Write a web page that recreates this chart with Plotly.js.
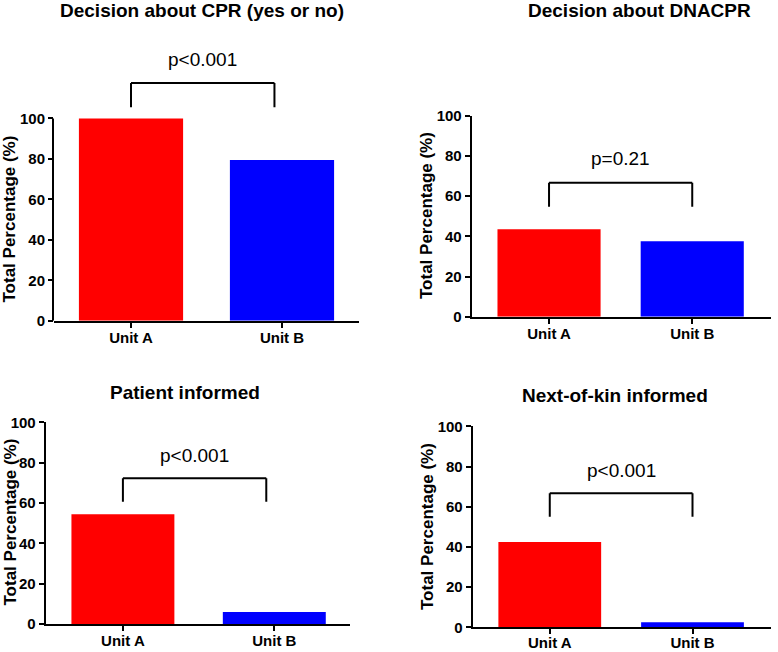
<!DOCTYPE html>
<html>
<head>
<meta charset="utf-8">
<script src="https://cdn.plot.ly/plotly-3.0.1.min.js"></script>
<style>html,body{margin:0;padding:0;background:#fff;}#chart{width:778px;height:652px;}</style>
</head>
<body>
<div id="chart"></div>
<script>
// ---- data ----
const units = ['Unit A', 'Unit B'];
const cprDecision = [100, 79.5];
const dnacprDecision = [43.5, 37.5];
const patientInformed = [54.4, 6.0];
const kinInformed = [42.4, 2.5];
const panelTitles = ['Decision about CPR (yes or no)', 'Decision about DNACPR', 'Patient informed', 'Next-of-kin informed'];
const pLabels = ['p<0.001', 'p=0.21', 'p<0.001', 'p<0.001'];
const yTicks = [0, 20, 40, 60, 80, 100];
const yTitle = 'Total Percentage (%)';

// ---- layout config (positions / styles) ----
const W = 778, H = 652;
const fx = px => px / W;
const fy = py => 1 - py / H;
const panels = [
  {vals: cprDecision, xdom: [54, 359], ydom: [320.7, 47.7], yr: [0, 135], xr: [-0.51, 1.51], bw: 0.69,
   br: {x0: 0, x1: 0.95, top: 117.5, leg: 105.6}, p: {x: 0.475, y: 129}, so: -3,
   title: {x: 202, y: 10}, ytitle: {x: 9.5, y: 219}},
  {vals: dnacprDecision, xdom: [471.7, 771], ydom: [316.7, 115.7], yr: [0, 100], xr: [-0.54, 1.55], bw: 0.72,
   br: {x0: 0, x1: 1, top: 66.7, leg: 54.7}, p: {x: 0.5, y: 78.5}, so: -3,
   title: {x: 639, y: 10}, ytitle: {x: 427, y: 216}},
  {vals: patientInformed, xdom: [45.7, 350], ydom: [624, 422.3], yr: [0, 100], xr: [-0.51, 1.50], bw: 0.68,
   br: {x0: 0, x1: 0.947, top: 72.2, leg: 60.6}, p: {x: 0.475, y: 83.4}, so: -3,
   title: {x: 185, y: 392}, ytitle: {x: 9.5, y: 522}},
  {vals: kinInformed, xdom: [472.7, 771], ydom: [627.3, 426.3], yr: [0, 100], xr: [-0.54, 1.55], bw: 0.72,
   br: {x0: 0, x1: 1, top: 66.7, leg: 55}, p: {x: 0.5, y: 78}, so: -4,
   title: {x: 615, y: 395.5}, ytitle: {x: 427, y: 527}}
];

const FONT = 'Liberation Sans, Arial, sans-serif';
const data = [];
const layout = {
  width: W, height: H,
  margin: {l: 0, r: 0, t: 0, b: 0},
  paper_bgcolor: '#ffffff', plot_bgcolor: 'rgba(0,0,0,0)',
  showlegend: false,
  shapes: [], annotations: [],
  font: {family: FONT, color: '#000'}
};

panels.forEach((pn, i) => {
  const n = i === 0 ? '' : String(i + 1);
  const xa = 'x' + n, ya = 'y' + n;
  data.push({
    type: 'bar', x: units.map((u, k) => k), y: pn.vals,
    xaxis: xa, yaxis: ya, width: pn.bw,
    marker: {color: ['#ff0000', '#0000ff'], line: {width: 0}},
    hoverinfo: 'none'
  });
  const lineOnAxis = pn.yr[1] === 100;
  layout['xaxis' + n] = {
    domain: [fx(pn.xdom[0]), fx(pn.xdom[1])], anchor: ya,
    range: pn.xr, tickvals: [0, 1], ticktext: units,
    showline: true, linecolor: '#000', linewidth: 2,
    ticks: 'outside', ticklen: 5, tickwidth: 2, tickcolor: '#000',
    ticklabelstandoff: pn.so,
    showgrid: false, zeroline: false, fixedrange: true,
    tickfont: {family: FONT, size: 15, weight: 'bold', color: '#000'}
  };
  layout['yaxis' + n] = {
    domain: [fy(pn.ydom[0]), fy(pn.ydom[1])], anchor: xa,
    range: pn.yr, tickvals: yTicks,
    showline: lineOnAxis, linecolor: '#000', linewidth: 2,
    ticks: 'outside', ticklen: 5, tickwidth: 2, tickcolor: '#000',
    showgrid: false, zeroline: false, fixedrange: true,
    tickfont: {family: FONT, size: 15, weight: 'bold', color: '#000'}
  };
  if (!lineOnAxis) {
    layout.shapes.push({type: 'line', xref: 'paper', yref: ya,
      x0: fx(pn.xdom[0]) - 1 / W, x1: fx(pn.xdom[0]) - 1 / W, y0: 0, y1: 100,
      line: {color: '#000', width: 2}});
  }
  // significance bracket
  const b = pn.br;
  const ln = {color: '#000', width: 2};
  layout.shapes.push({type: 'line', xref: xa, yref: ya, x0: b.x0, x1: b.x0, y0: b.leg, y1: b.top, line: ln});
  layout.shapes.push({type: 'line', xref: xa, yref: ya, x0: b.x0, x1: b.x1, y0: b.top, y1: b.top, line: ln});
  layout.shapes.push({type: 'line', xref: xa, yref: ya, x0: b.x1, x1: b.x1, y0: b.top, y1: b.leg, line: ln});
  layout.annotations.push({xref: xa, yref: ya, x: pn.p.x, y: pn.p.y, text: pLabels[i],
    showarrow: false, xanchor: 'center', yanchor: 'middle',
    font: {family: FONT, size: 19, color: '#000'}});
  // panel title
  layout.annotations.push({xref: 'paper', yref: 'paper', x: fx(pn.title.x), y: fy(pn.title.y),
    text: panelTitles[i], showarrow: false, xanchor: 'center', yanchor: 'middle',
    font: {family: FONT, size: 19, weight: 'bold', color: '#000'}});
  // y axis title
  layout.annotations.push({xref: 'paper', yref: 'paper', x: fx(pn.ytitle.x), y: fy(pn.ytitle.y),
    text: yTitle, textangle: -90, showarrow: false, xanchor: 'center', yanchor: 'middle',
    font: {family: FONT, size: 17, weight: 'bold', color: '#000'}});
});

Plotly.newPlot('chart', data, layout, {displayModeBar: false, staticPlot: true});
</script>
</body>
</html>
